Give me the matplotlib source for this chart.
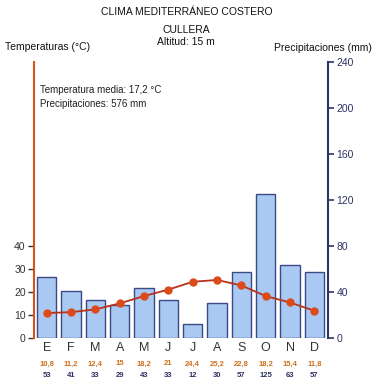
import matplotlib
matplotlib.use("Agg")
import matplotlib.pyplot as plt

plt.rcParams['font.family'] = ['Liberation Sans', 'DejaVu Sans']

# datos climáticos de Cullera
meses = ["E", "F", "M", "A", "M", "J", "J", "A", "S", "O", "N", "D"]
temperaturas = [10.8, 11.2, 12.4, 15, 18.2, 21, 24.4, 25.2, 22.8, 18.2, 15.4, 11.8]
precipitaciones = [53, 41, 33, 29, 43, 33, 12, 30, 57, 125, 63, 57]
ticks_temp = [0, 10, 20, 30, 40]
ticks_prec = [0, 40, 80, 120, 160, 200, 240]

c_temp = "#d5541e"
c_prec = "#2d3466"

fig = plt.figure(figsize=(3.74, 3.92), dpi=100)
ax = fig.add_axes([0.091, 0.138, 0.786, 0.704])
ax2 = ax.twinx()

x = list(range(len(meses)))

# precipitaciones (barras, eje derecho)
ax2.bar(x, precipitaciones, width=0.8, color="#a9c8f2", edgecolor="#3b4a86", linewidth=1.0)
ax2.set_ylim(0, 240)
ax2.set_yticks(ticks_prec)
ax2.tick_params(axis="y", colors=c_prec, labelsize=7.5, length=4, width=1.2, pad=2)

# temperaturas (línea, eje izquierdo)
ax.set_zorder(ax2.get_zorder() + 1)
ax.patch.set_visible(False)
ax.plot(x, temperaturas, color="#b8331a", linewidth=1.3, marker="o", markersize=5,
        markerfacecolor="#dc4a1a", markeredgecolor="#dc4a1a")
ax.set_ylim(0, 120)
ax.set_yticks(ticks_temp)
ax.tick_params(axis="y", colors="#333333", labelsize=7.5, length=4, width=1.0, pad=2)
ax.set_xlim(-0.52, 11.56)
ax.set_xticks(x)
ax.set_xticklabels(meses)
ax.tick_params(axis="x", length=0, labelsize=9, pad=3, colors="#333333")

for a in (ax, ax2):
    for s in ("top", "bottom"):
        a.spines[s].set_visible(False)
ax.spines["right"].set_visible(False)
ax2.spines["left"].set_visible(False)
ax.spines["left"].set_color(c_temp)
ax.spines["left"].set_linewidth(1.5)
ax2.spines["right"].set_color(c_prec)
ax2.spines["right"].set_linewidth(1.5)

# valores bajo cada mes
tr = ax.get_xaxis_transform()
for i in x:
    ax.text(i, -0.094, f"{temperaturas[i]:g}".replace(".", ","), transform=tr,
            ha="center", va="center", fontsize=5.5, color="#d0701e", fontweight="bold")
    ax.text(i, -0.138, str(precipitaciones[i]), transform=tr,
            ha="center", va="center", fontsize=5.5, color=c_prec, fontweight="bold")

ax.text(0.02, 0.898, "Temperatura media: 17,2 °C", transform=ax.transAxes,
        fontsize=7, color="#222222", va="center")
ax.text(0.02, 0.848, "Precipitaciones: 576 mm", transform=ax.transAxes,
        fontsize=7, color="#222222", va="center")

# títulos
fig.text(0.5, 0.969, "CLIMA MEDITERRÁNEO COSTERO", ha="center", va="center",
         fontsize=7.5, color="#111111")
fig.text(0.497, 0.923, "CULLERA", ha="center", va="center", fontsize=7.5, color="#111111")
fig.text(0.497, 0.893, "Altitud: 15 m", ha="center", va="center", fontsize=7.5, color="#111111")
fig.text(0.013, 0.880, "Temperaturas (°C)", ha="left", va="center", fontsize=7.5, color="#111111")
fig.text(0.995, 0.877, "Precipitaciones (mm)", ha="right", va="center", fontsize=7.5, color="#111111")

fig.savefig("out.png", dpi=100)
